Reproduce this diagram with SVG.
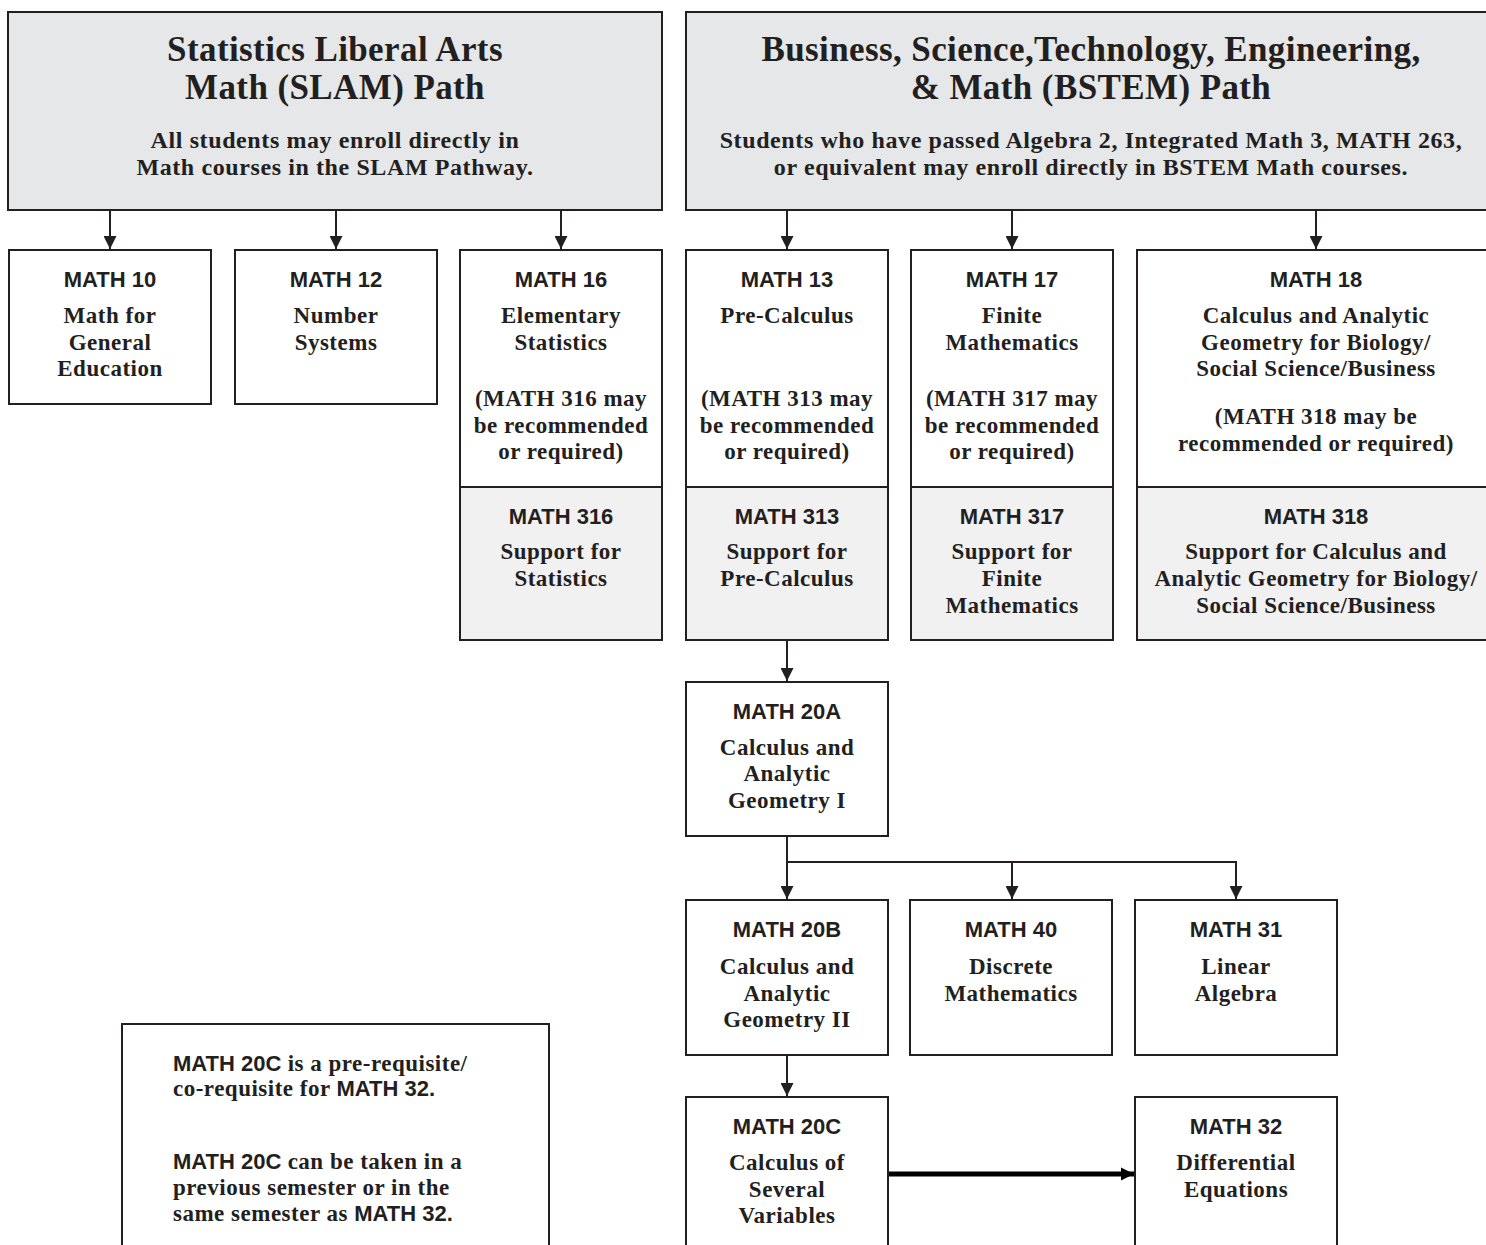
<svg xmlns="http://www.w3.org/2000/svg" width="1486" height="1245" viewBox="0 0 1486 1245">
<style>
.box{fill:#ffffff;stroke:#231f20;stroke-width:2}
.hdr{fill:#e6e7e8}
.sup{fill:#f1f1f2}
.code{font-family:"Liberation Sans",Arial,sans-serif;font-weight:bold;font-size:22px;text-anchor:middle;fill:#231f20}
.t{font-family:"Liberation Serif","Times New Roman",serif;font-weight:bold;font-size:23px;letter-spacing:0.5px;text-anchor:middle;fill:#231f20}
.h1{font-family:"Liberation Serif","Times New Roman",serif;font-weight:bold;font-size:35px;letter-spacing:0.4px;text-anchor:middle;fill:#231f20}
.h2{font-family:"Liberation Serif","Times New Roman",serif;font-weight:bold;font-size:24px;letter-spacing:0.6px;text-anchor:middle;fill:#231f20}
.n{font-family:"Liberation Serif","Times New Roman",serif;font-weight:bold;font-size:23px;letter-spacing:0.5px;fill:#231f20}
.ns{font-family:"Liberation Sans",Arial,sans-serif;font-weight:bold;font-size:22px;letter-spacing:0}
.con{fill:none;stroke:#231f20;stroke-width:2}
.thick{fill:none;stroke:#000000;stroke-width:5}
</style>
<defs>
<marker id="ah" viewBox="0 0 10 10" refX="10" refY="5" markerWidth="14" markerHeight="13" markerUnits="userSpaceOnUse" orient="auto">
<path d="M0,0 L10,5 L0,10 z" fill="#231f20"/>
</marker>
<marker id="ahb" viewBox="0 0 10 10" refX="10" refY="5" markerWidth="13" markerHeight="15" markerUnits="userSpaceOnUse" orient="auto">
<path d="M0,0 L10,5 L0,10 z" fill="#000000"/>
</marker>
</defs>
<rect width="1486" height="1245" fill="#ffffff"/>

<g id="connectors">
<line class="con" x1="110" y1="211" x2="110" y2="249" marker-end="url(#ah)"/>
<line class="con" x1="336" y1="211" x2="336" y2="249" marker-end="url(#ah)"/>
<line class="con" x1="561" y1="211" x2="561" y2="249" marker-end="url(#ah)"/>
<line class="con" x1="787" y1="211" x2="787" y2="249" marker-end="url(#ah)"/>
<line class="con" x1="1012" y1="211" x2="1012" y2="249" marker-end="url(#ah)"/>
<line class="con" x1="1316" y1="211" x2="1316" y2="249" marker-end="url(#ah)"/>
<line class="con" x1="787" y1="641" x2="787" y2="681" marker-end="url(#ah)"/>
<line class="con" x1="787" y1="837" x2="787" y2="899" marker-end="url(#ah)"/>
<polyline class="con" points="787,862 1236,862 1236,899" marker-end="url(#ah)"/>
<line class="con" x1="1012" y1="862" x2="1012" y2="899" marker-end="url(#ah)"/>
<line class="con" x1="787" y1="1056" x2="787" y2="1096" marker-end="url(#ah)"/>
<line class="thick" x1="889" y1="1174" x2="1134" y2="1174" marker-end="url(#ahb)"/>
</g>

<g id="slam-header">
<rect class="box hdr" x="8" y="12" width="654" height="198"/>
<text class="h1" x="335" y="61">Statistics Liberal Arts</text>
<text class="h1" x="335" y="99">Math (SLAM) Path</text>
<text class="h2" x="335" y="148">All students may enroll directly in</text>
<text class="h2" x="335" y="175">Math courses in the SLAM Pathway.</text>
</g>

<g id="bstem-header">
<rect class="box hdr" x="686" y="12" width="812" height="198"/>
<text class="h1" x="1091" y="61">Business, Science,Technology, Engineering,</text>
<text class="h1" x="1091" y="99">&amp; Math (BSTEM) Path</text>
<text class="h2" x="1091" y="148">Students who have passed Algebra 2, Integrated Math 3, MATH 263,</text>
<text class="h2" x="1091" y="175">or equivalent may enroll directly in BSTEM Math courses.</text>
</g>

<g id="math10">
<rect class="box" x="9" y="250" width="202" height="154"/>
<text class="code" x="110" y="287">MATH 10</text>
<text class="t" x="110" y="323">Math for</text>
<text class="t" x="110" y="350">General</text>
<text class="t" x="110" y="376">Education</text>
</g>

<g id="math12">
<rect class="box" x="235" y="250" width="202" height="154"/>
<text class="code" x="336" y="287">MATH 12</text>
<text class="t" x="336" y="323">Number</text>
<text class="t" x="336" y="350">Systems</text>
</g>

<g id="math16">
<rect class="box" x="460" y="250" width="202" height="237"/>
<text class="code" x="561" y="287">MATH 16</text>
<text class="t" x="561" y="323">Elementary</text>
<text class="t" x="561" y="350">Statistics</text>
<text class="t" x="561" y="406">(MATH 316 may</text>
<text class="t" x="561" y="433">be recommended</text>
<text class="t" x="561" y="459">or required)</text>
</g>
<g id="math316">
<rect class="box sup" x="460" y="487" width="202" height="153"/>
<text class="code" x="561" y="524">MATH 316</text>
<text class="t" x="561" y="559">Support for</text>
<text class="t" x="561" y="586">Statistics</text>
</g>

<g id="math13">
<rect class="box" x="686" y="250" width="202" height="237"/>
<text class="code" x="787" y="287">MATH 13</text>
<text class="t" x="787" y="323">Pre-Calculus</text>
<text class="t" x="787" y="406">(MATH 313 may</text>
<text class="t" x="787" y="433">be recommended</text>
<text class="t" x="787" y="459">or required)</text>
</g>
<g id="math313">
<rect class="box sup" x="686" y="487" width="202" height="153"/>
<text class="code" x="787" y="524">MATH 313</text>
<text class="t" x="787" y="559">Support for</text>
<text class="t" x="787" y="586">Pre-Calculus</text>
</g>

<g id="math17">
<rect class="box" x="911" y="250" width="202" height="237"/>
<text class="code" x="1012" y="287">MATH 17</text>
<text class="t" x="1012" y="323">Finite</text>
<text class="t" x="1012" y="350">Mathematics</text>
<text class="t" x="1012" y="406">(MATH 317 may</text>
<text class="t" x="1012" y="433">be recommended</text>
<text class="t" x="1012" y="459">or required)</text>
</g>
<g id="math317">
<rect class="box sup" x="911" y="487" width="202" height="153"/>
<text class="code" x="1012" y="524">MATH 317</text>
<text class="t" x="1012" y="559">Support for</text>
<text class="t" x="1012" y="586">Finite</text>
<text class="t" x="1012" y="613">Mathematics</text>
</g>

<g id="math18">
<rect class="box" x="1137" y="250" width="361" height="237"/>
<text class="code" x="1316" y="287">MATH 18</text>
<text class="t" x="1316" y="323">Calculus and Analytic</text>
<text class="t" x="1316" y="350">Geometry for Biology/</text>
<text class="t" x="1316" y="376">Social Science/Business</text>
<text class="t" x="1316" y="424">(MATH 318 may be</text>
<text class="t" x="1316" y="451">recommended or required)</text>
</g>
<g id="math318">
<rect class="box sup" x="1137" y="487" width="361" height="153"/>
<text class="code" x="1316" y="524">MATH 318</text>
<text class="t" x="1316" y="559">Support for Calculus and</text>
<text class="t" x="1316" y="586">Analytic Geometry for Biology/</text>
<text class="t" x="1316" y="613">Social Science/Business</text>
</g>

<g id="math20a">
<rect class="box" x="686" y="682" width="202" height="154"/>
<text class="code" x="787" y="719">MATH 20A</text>
<text class="t" x="787" y="755">Calculus and</text>
<text class="t" x="787" y="781">Analytic</text>
<text class="t" x="787" y="808">Geometry I</text>
</g>

<g id="math20b">
<rect class="box" x="686" y="900" width="202" height="155"/>
<text class="code" x="787" y="937">MATH 20B</text>
<text class="t" x="787" y="974">Calculus and</text>
<text class="t" x="787" y="1001">Analytic</text>
<text class="t" x="787" y="1027">Geometry II</text>
</g>

<g id="math40">
<rect class="box" x="910" y="900" width="202" height="155"/>
<text class="code" x="1011" y="937">MATH 40</text>
<text class="t" x="1011" y="974">Discrete</text>
<text class="t" x="1011" y="1001">Mathematics</text>
</g>

<g id="math31">
<rect class="box" x="1135" y="900" width="202" height="155"/>
<text class="code" x="1236" y="937">MATH 31</text>
<text class="t" x="1236" y="974">Linear</text>
<text class="t" x="1236" y="1001">Algebra</text>
</g>

<g id="math20c">
<rect class="box" x="686" y="1097" width="202" height="160"/>
<text class="code" x="787" y="1134">MATH 20C</text>
<text class="t" x="787" y="1170">Calculus of</text>
<text class="t" x="787" y="1197">Several</text>
<text class="t" x="787" y="1223">Variables</text>
</g>

<g id="math32">
<rect class="box" x="1135" y="1097" width="202" height="160"/>
<text class="code" x="1236" y="1134">MATH 32</text>
<text class="t" x="1236" y="1170">Differential</text>
<text class="t" x="1236" y="1197">Equations</text>
</g>

<g id="note">
<rect class="box" x="122" y="1024" width="427" height="233"/>
<text class="n" x="173" y="1071"><tspan class="ns">MATH 20C</tspan> is a pre-requisite/</text>
<text class="n" x="173" y="1096">co-requisite for <tspan class="ns">MATH 32.</tspan></text>
<text class="n" x="173" y="1169"><tspan class="ns">MATH 20C</tspan> can be taken in a</text>
<text class="n" x="173" y="1195">previous semester or in the</text>
<text class="n" x="173" y="1221">same semester as <tspan class="ns">MATH 32.</tspan></text>
</g>
</svg>
